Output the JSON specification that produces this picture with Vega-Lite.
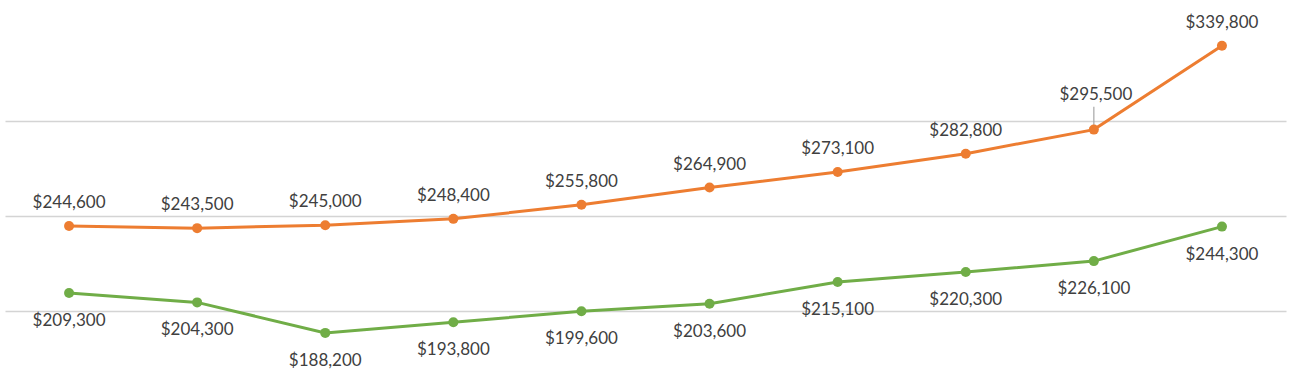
{
  "$schema": "https://vega.github.io/schema/vega-lite/v6.json",
  "width": 1281,
  "height": 378,
  "autosize": {"type": "none"},
  "padding": {"left": 5, "right": 11, "top": 0, "bottom": 0},
  "background": "white",
  "config": {"view": {"stroke": null}},
  "data": {
    "values": [
      {"i": 1, "series": "Series 1", "value": 244600},
      {"i": 2, "series": "Series 1", "value": 243500},
      {"i": 3, "series": "Series 1", "value": 245000},
      {"i": 4, "series": "Series 1", "value": 248400},
      {"i": 5, "series": "Series 1", "value": 255800},
      {"i": 6, "series": "Series 1", "value": 264900},
      {"i": 7, "series": "Series 1", "value": 273100},
      {"i": 8, "series": "Series 1", "value": 282800},
      {"i": 9, "series": "Series 1", "value": 295500},
      {"i": 10, "series": "Series 1", "value": 339800},
      {"i": 1, "series": "Series 2", "value": 209300},
      {"i": 2, "series": "Series 2", "value": 204300},
      {"i": 3, "series": "Series 2", "value": 188200},
      {"i": 4, "series": "Series 2", "value": 193800},
      {"i": 5, "series": "Series 2", "value": 199600},
      {"i": 6, "series": "Series 2", "value": 203600},
      {"i": 7, "series": "Series 2", "value": 215100},
      {"i": 8, "series": "Series 2", "value": 220300},
      {"i": 9, "series": "Series 2", "value": 226100},
      {"i": 10, "series": "Series 2", "value": 244300}
    ]
  },
  "encoding": {
    "x": {"field": "i", "type": "ordinal", "scale": {"type": "point", "padding": 0.5}, "axis": null},
    "y": {
      "field": "value", "type": "quantitative",
      "scale": {"domain": [164400, 363900], "nice": false, "zero": false},
      "axis": {"values": [200000, 250000, 300000], "labels": false, "ticks": false, "domain": false, "title": null, "grid": true, "gridColor": "#d4d4d4", "gridWidth": 1.5}
    },
    "color": {"field": "series", "type": "nominal", "scale": {"domain": ["Series 1", "Series 2"], "range": ["#ED7D31", "#70AD47"]}, "legend": null}
  },
  "layer": [
    {
      "transform": [{"filter": "datum.i == 9 && datum.series == 'Series 1'"}],
      "mark": {"type": "rule", "color": "#a6a6a6", "strokeWidth": 1.2},
      "encoding": {"y2": {"datum": 307600}, "color": {"value": "#a6a6a6"}}
    },
    {"mark": {"type": "line", "strokeWidth": 3}},
    {"mark": {"type": "point", "filled": true, "opacity": 1, "size": 100}},
    {
      "transform": [{"filter": "datum.series == 'Series 1' && datum.i != 9"}],
      "mark": {"type": "text", "dy": -23, "font": "Lato", "fontSize": 17, "color": "#404040"},
      "encoding": {"text": {"field": "value", "type": "quantitative", "format": "$,"}, "color": {"value": "#404040"}}
    },
    {
      "transform": [{"filter": "datum.series == 'Series 1' && datum.i == 9"}],
      "mark": {"type": "text", "dy": -35, "dx": 2, "font": "Lato", "fontSize": 17, "color": "#404040"},
      "encoding": {"text": {"field": "value", "type": "quantitative", "format": "$,"}, "color": {"value": "#404040"}}
    },
    {
      "transform": [{"filter": "datum.series == 'Series 2'"}],
      "mark": {"type": "text", "dy": 28, "font": "Lato", "fontSize": 17, "color": "#404040"},
      "encoding": {"text": {"field": "value", "type": "quantitative", "format": "$,"}, "color": {"value": "#404040"}}
    }
  ]
}
